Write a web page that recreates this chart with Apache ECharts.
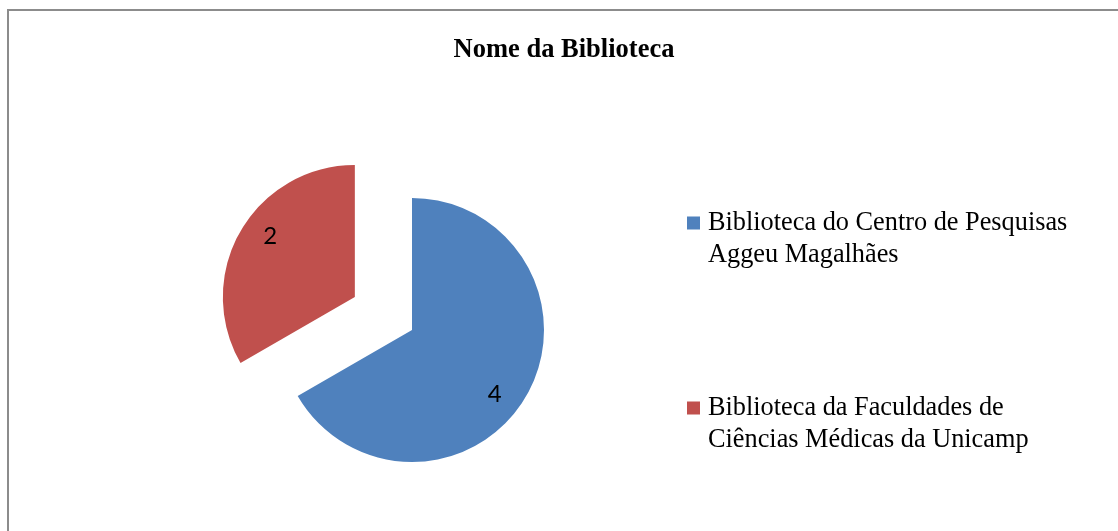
<!DOCTYPE html>
<html>
<head>
<meta charset="utf-8">
<script src="https://cdn.jsdelivr.net/npm/echarts@6/dist/echarts.min.js"></script>
<style>
  html, body { margin: 0; padding: 0; background: #fff; }
  #chart { width: 1118px; height: 531px; }
</style>
</head>
<body>
<div id="chart"></div>
<script>
const titleText = 'Nome da Biblioteca';
const libraries = [
  'Biblioteca do Centro de Pesquisas\nAggeu Magalhães',
  'Biblioteca da Faculdades de\nCiências Médicas da Unicamp'
];
const counts = [4, 2];
const colors = ['#4F81BD', '#C0504D'];
// label nudges so the numbers sit where the original puts them
const labelShift = [[23, 30], [-25, -26]];

const chart = echarts.init(document.getElementById('chart'));

const pieData = libraries.map((name, i) => ({
  name: name,
  value: counts[i],
  selected: i === 1,
  itemStyle: { color: colors[i] },
  label: { offset: labelShift[i] },
  select: { label: { offset: labelShift[i] } }
}));

chart.setOption({
  animation: false,
  title: {
    text: titleText,
    left: 559,
    textAlign: 'center',
    top: 32,
    textStyle: {
      fontFamily: 'Liberation Serif',
      fontWeight: 'bold',
      fontSize: 26.5,
      color: '#000'
    }
  },
  legend: {
    orient: 'vertical',
    left: 682,
    top: 202,
    itemGap: 121,
    itemWidth: 16,
    itemHeight: 45,
    icon: 'path://M0 0H13V13H0Z M15.9 44.9H16V45H15.9Z',
    selectedMode: false,
    textStyle: {
      fontFamily: 'Liberation Serif',
      fontSize: 26.3,
      lineHeight: 32,
      color: '#000'
    },
    data: libraries
  },
  graphic: [{
    type: 'rect',
    shape: { x: 8, y: 10, width: 1130, height: 540 },
    style: { fill: 'none', stroke: '#8c8c8c', lineWidth: 2 },
    silent: true
  }],
  series: [{
    type: 'pie',
    center: [412, 330],
    radius: 132,
    startAngle: 90,
    clockwise: true,
    selectedMode: 'single',
    selectedOffset: 66,
    label: {
      show: true,
      position: 'inside',
      formatter: '{c}',
      fontFamily: 'Lato',
      fontSize: 24,
      color: '#000'
    },
    labelLine: { show: false },
    emphasis: { disabled: true },
    data: pieData
  }]
});
</script>
</body>
</html>
